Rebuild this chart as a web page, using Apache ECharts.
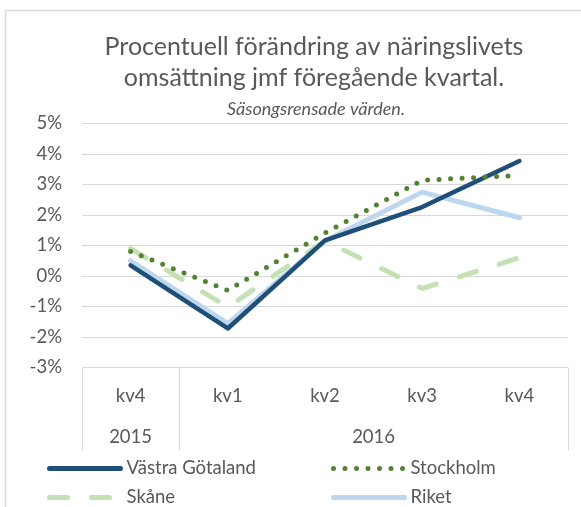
<!DOCTYPE html>
<html>
<head>
<meta charset="utf-8">
<script src="https://cdn.jsdelivr.net/npm/echarts@6/dist/echarts.min.js"></script>
<style>
  html, body { margin: 0; padding: 0; background: #fff; }
  #main { width: 581px; height: 507px; }
</style>
</head>
<body>
<div id="main"></div>
<script>
var dom = document.getElementById("main");
var myChart = echarts.init(dom, null, { renderer: "canvas" });

// kvartal och år
var quarters = ["kv4", "kv1", "kv2", "kv3", "kv4"];
var years = ["2015", "2016"];
// procentuell förändring
var vastraGotaland = [0.35, -1.72, 1.17, 2.26, 3.77];
var stockholm = [0.8, -0.47, 1.41, 3.14, 3.3];
var skane = [0.9, -1.02, 1.15, -0.41, 0.6];
var riket = [0.5, -1.56, 1.15, 2.75, 1.91];

var textColor = "#595959";
var gridColor = "#D9D9D9";
var font = "Lato";

function legendAt(name, left, top) {
  return {
    data: [name],
    left: left,
    top: top,
    orient: "horizontal",
    itemWidth: 71,
    itemHeight: 14,
    itemGap: 0,
    padding: 0,
    selectedMode: false,
    itemStyle: { opacity: 0 },
    lineStyle: { width: 5 },
    textStyle: { color: textColor, fontSize: 18.5, fontFamily: font, padding: [0, 0, 0, 1] },
  };
}

var option = {
  backgroundColor: "#fff",
  graphic: [
    {
      type: "polyline",
      shape: { points: [[5.5, 600], [5.5, 10.5], [700, 10.5]] },
      style: { stroke: gridColor, lineWidth: 1.5, fill: null },
      silent: true,
    },
  ],
  title: [
    {
      text: "Procentuell förändring av näringslivets\nomsättning jmf föregående kvartal.",
      left: 309,
      top: 26,
      textAlign: "center",
      textStyle: { color: textColor, fontSize: 25, fontWeight: "normal", fontFamily: font, lineHeight: 31 },
    },
    {
      text: "Säsongsrensade värden.",
      left: 311,
      top: 95,
      textAlign: "center",
      textStyle: { color: textColor, fontSize: 18, fontWeight: "normal", fontStyle: "italic", fontFamily: font },
    },
  ],
  legend: [
    legendAt("Västra Götaland", 47, 459),
    legendAt("Stockholm", 331, 459),
    legendAt("Skåne", 47, 488),
    legendAt("Riket", 331, 488),
  ],
  grid: { left: 82, right: 13, top: 123.5, bottom: 139.5, containLabel: false },
  xAxis: [
    {
      type: "category",
      data: quarters,
      boundaryGap: true,
      axisLine: { show: true, lineStyle: { color: gridColor, width: 1 } },
      axisTick: { show: false },
      axisLabel: { color: textColor, fontSize: 18.5, fontFamily: font, margin: 19 },
      splitLine: { show: false },
    },
    {
      type: "value",
      min: 0,
      max: 5,
      position: "bottom",
      axisLine: { show: false },
      axisTick: {
        show: true,
        customValues: [0, 1, 5],
        length: 83,
        lineStyle: { color: gridColor, width: 1 },
      },
      axisLabel: {
        show: true,
        customValues: [0.5, 3],
        formatter: function (v) { return v < 1 ? years[0] : years[1]; },
        color: textColor,
        fontSize: 18.5,
        fontFamily: font,
        margin: 60,
      },
      splitLine: { show: false },
    },
  ],
  yAxis: {
    type: "value",
    min: -3,
    max: 5,
    interval: 1,
    axisLine: { show: false },
    axisTick: { show: false },
    axisLabel: { formatter: "{value}%", color: textColor, fontSize: 18.5, fontFamily: font, margin: 20 },
    splitLine: { lineStyle: { color: gridColor, width: 1 } },
  },
  series: [
    {
      name: "Västra Götaland",
      type: "line",
      data: vastraGotaland,
      symbol: "none",
      z: 4,
      color: "#1F4E79",
      lineStyle: { color: "#1F4E79", width: 4.5, cap: "round", join: "round" },
    },
    {
      name: "Stockholm",
      type: "line",
      data: stockholm,
      symbol: "none",
      z: 5,
      color: "#548235",
      lineStyle: { color: "#548235", width: 5, type: [0, 11.5], cap: "round" },
    },
    {
      name: "Skåne",
      type: "line",
      data: skane,
      symbol: "none",
      z: 2,
      color: "#C5E0B4",
      lineStyle: { color: "#C5E0B4", width: 5, type: [18, 24], cap: "round" },
    },
    {
      name: "Riket",
      type: "line",
      data: riket,
      symbol: "none",
      z: 3,
      color: "#BDD7EE",
      lineStyle: { color: "#BDD7EE", width: 5, cap: "round", join: "round" },
    },
  ],
};

myChart.setOption(option);
</script>
</body>
</html>
